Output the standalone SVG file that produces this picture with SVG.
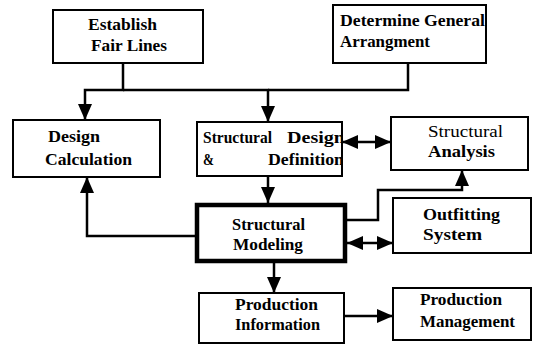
<svg xmlns="http://www.w3.org/2000/svg" width="534" height="345" viewBox="0 0 534 345">
<style>
.box{fill:#fff;stroke:#000;stroke-width:2}
.thick{stroke-width:4.5}
text{font-family:'Liberation Serif','Times New Roman',Times,serif;font-weight:bold;font-size:17px;fill:#000}
text.r{font-weight:normal}
.c{fill:none;stroke:#000;stroke-width:2.5}
</style>
<defs>
<marker id="ah" viewBox="0 0 16 14" refX="16" refY="7" markerWidth="16" markerHeight="14" markerUnits="userSpaceOnUse" orient="auto-start-reverse">
<path d="M0,0 L16,7 L0,14 z" fill="#000"/>
</marker>
<clipPath id="sdclip"><rect x="197" y="122" width="145" height="54"/></clipPath>
</defs>
<rect width="534" height="345" fill="#fff"/>
<g id="connectors">
<path class="c" d="M123,63 V90 H85 V120" marker-end="url(#ah)"/>
<path class="c" d="M123,90 H268 V122" marker-end="url(#ah)"/>
<path class="c" d="M408,63 V90 H268"/>
<path class="c" d="M342,142 H391" marker-start="url(#ah)" marker-end="url(#ah)"/>
<path class="c" d="M268,176 V203" marker-end="url(#ah)"/>
<path class="c" d="M197,236 H87 V177" marker-end="url(#ah)"/>
<path class="c" d="M343,220 H378 V190 H462 V170" marker-end="url(#ah)"/>
<path class="c" d="M347,243 H393" marker-start="url(#ah)" marker-end="url(#ah)"/>
<path class="c" d="M274,263 V293" marker-end="url(#ah)"/>
<path class="c" d="M344,316 H393" marker-end="url(#ah)"/>
</g>
<g id="establish-fair-lines">
<rect class="box" x="53" y="10" width="150" height="53"/>
<text x="88" y="30" textLength="69" lengthAdjust="spacingAndGlyphs">Establish</text>
<text x="91" y="51" textLength="76" lengthAdjust="spacingAndGlyphs">Fair Lines</text>
</g>
<g id="determine-general-arrangement">
<rect class="box" x="333" y="5" width="153" height="58"/>
<text x="340" y="26" textLength="145" lengthAdjust="spacingAndGlyphs">Determine General</text>
<text x="340" y="47" textLength="90" lengthAdjust="spacingAndGlyphs">Arrangment</text>
</g>
<g id="design-calculation">
<rect class="box" x="13" y="120" width="147" height="57"/>
<text x="48" y="142" textLength="52" lengthAdjust="spacingAndGlyphs">Design</text>
<text x="45" y="165" textLength="87" lengthAdjust="spacingAndGlyphs">Calculation</text>
</g>
<g id="structural-design-definition">
<rect class="box" x="197" y="122" width="145" height="54"/>
<g clip-path="url(#sdclip)">
<text x="203" y="143" textLength="69" lengthAdjust="spacingAndGlyphs">Structural</text>
<text x="287" y="143" textLength="58" lengthAdjust="spacingAndGlyphs">Design</text>
<text x="203" y="165" textLength="11" lengthAdjust="spacingAndGlyphs">&amp;</text>
<text x="268" y="165" textLength="76" lengthAdjust="spacingAndGlyphs">Definition</text>
</g>
<rect x="197" y="122" width="145" height="54" fill="none" stroke="#000" stroke-width="2"/>
</g>
<g id="structural-analysis">
<rect class="box" x="391" y="117" width="137" height="53"/>
<text class="r" x="428" y="137" textLength="75" lengthAdjust="spacingAndGlyphs">Structural</text>
<text x="428" y="157" textLength="67" lengthAdjust="spacingAndGlyphs">Analysis</text>
</g>
<g id="structural-modeling">
<rect class="box thick" x="197" y="205" width="148" height="56"/>
<text x="232" y="230" textLength="73" lengthAdjust="spacingAndGlyphs">Structural</text>
<text x="233" y="250" textLength="70" lengthAdjust="spacingAndGlyphs">Modeling</text>
</g>
<g id="outfitting-system">
<rect class="box" x="393" y="198" width="138" height="55"/>
<text x="423" y="220" textLength="77" lengthAdjust="spacingAndGlyphs">Outfitting</text>
<text x="423" y="240" textLength="59" lengthAdjust="spacingAndGlyphs">System</text>
</g>
<g id="production-information">
<rect class="box" x="199" y="293" width="145" height="50"/>
<text x="235" y="310" textLength="83" lengthAdjust="spacingAndGlyphs">Production</text>
<text x="235" y="330" textLength="85" lengthAdjust="spacingAndGlyphs">Information</text>
</g>
<g id="production-management">
<rect class="box" x="393" y="288" width="138" height="52"/>
<text x="420" y="305" textLength="82" lengthAdjust="spacingAndGlyphs">Production</text>
<text x="420" y="327" textLength="95" lengthAdjust="spacingAndGlyphs">Management</text>
</g>
</svg>
